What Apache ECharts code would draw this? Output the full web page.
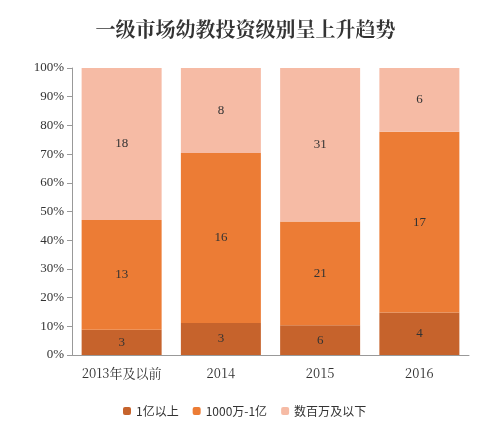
<!DOCTYPE html>
<html><head><meta charset="utf-8">
<script src="https://cdn.jsdelivr.net/npm/echarts@6/dist/echarts.min.js"></script>
<style>html,body{margin:0;background:#fff}#c{width:491px;height:434px}</style>
</head><body><div id="c"></div>
<script>
const categories = ['2013年及以前', '2014', '2015', '2016']
const small = [3, 3, 6, 4]
const mid = [13, 16, 21, 17]
const large = [18, 8, 31, 6]
const names = ['1亿以上', '1000万-1亿', '数百万及以下']
const colors = ['#c6632c', '#ec7c35', '#f6bba5']

const totals = categories.map((_, i) => small[i] + mid[i] + large[i])
const pct = arr => arr.map((v, i) => ({ value: v / totals[i] * 100, raw: v }))

const mk = (name, arr, color) => ({
  name, type: 'bar', stack: 'a', barWidth: 80,
  data: pct(arr),
  itemStyle: { color },
  label: { show: true, position: 'inside', color: '#333', fontSize: 13,
    fontFamily: 'Liberation Serif', formatter: p => p.data.raw }
})

const chart = echarts.init(document.getElementById('c'))
chart.setOption({
  backgroundColor: '#fff',
  title: { text: '一级市场幼教投资级别呈上升趋势', left: 'center', top: 14,
    textStyle: { fontFamily: 'Noto Serif CJK SC, Noto Sans CJK SC', fontWeight: 'bold', fontSize: 20, color: '#333' } },
  grid: { left: 72, right: 22, top: 68, bottom: 79 },
  legend: { bottom: 12, left: 118, itemWidth: 8, itemHeight: 8, itemGap: 14,
    textStyle: { fontSize: 12, color: '#333', fontFamily: 'Noto Sans CJK SC' } },
  xAxis: { type: 'category', data: categories,
    axisLine: { lineStyle: { color: '#999' } }, axisTick: { show: false },
    axisLabel: { interval: 0, color: '#333', fontSize: 13, fontFamily: 'Noto Serif CJK SC, Liberation Serif', margin: 12 } },
  yAxis: { type: 'value', min: 0, max: 100, interval: 10,
    axisLine: { show: true, lineStyle: { color: '#999' } },
    axisTick: { show: true, lineStyle: { color: '#999' } }, splitLine: { show: false },
    axisLabel: { color: '#333', fontSize: 13, fontFamily: 'Liberation Serif', formatter: '{value}%' } },
  series: [mk(names[0], small, colors[0]), mk(names[1], mid, colors[1]), mk(names[2], large, colors[2])]
})
</script></body></html>
